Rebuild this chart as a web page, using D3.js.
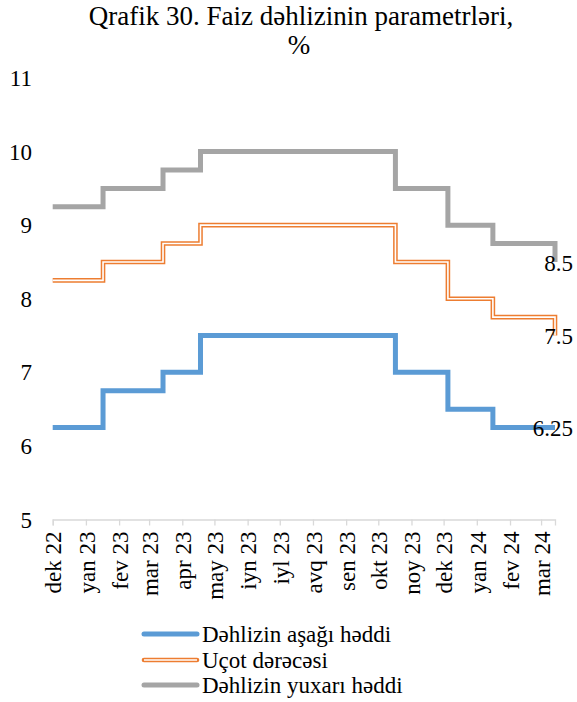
<!DOCTYPE html>
<html>
<head>
<meta charset="utf-8">
<script src="https://cdn.jsdelivr.net/npm/d3@7"></script>
<style>
  html, body { margin: 0; padding: 0; background: #fff; }
  svg { display: block; }
  svg text { font-family: "Liberation Serif", "Times New Roman", serif; fill: #000; }
</style>
</head>
<body>
<svg id="chart" width="577" height="702"></svg>
<script>
// Decision dates and corridor parameters (%), each value holds until the next date
const changeDates = ["2022-12-01", "2023-01-17", "2023-03-14", "2023-04-18",
                     "2023-10-17", "2023-12-05", "2024-01-16", "2024-03-14"];
const lowerBound = [6.25, 6.75, 7.0, 7.5, 7.0, 6.5, 6.25, 6.25];
const policyRate = [8.25, 8.5, 8.75, 9.0, 8.5, 8.0, 7.75, 7.5];
const upperBound = [9.25, 9.5, 9.75, 10.0, 9.5, 9.0, 8.75, 8.5];

const seriesNames = ["Dəhlizin aşağı həddi", "Uçot dərəcəsi", "Dəhlizin yuxarı həddi"];
const monthLabels = ["dek 22", "yan 23", "fev 23", "mar 23", "apr 23", "may 23", "iyn 23", "iyl 23",
                     "avq 23", "sen 23", "okt 23", "noy 23", "dek 23", "yan 24", "fev 24", "mar 24"];
const yTicks = [5, 6, 7, 8, 9, 10, 11];
const endLabels = ["6.25", "7.5", "8.5"];

const FONT = "Liberation Serif, Times New Roman, serif";

const parse = d3.timeParse("%Y-%m-%d");
const dates = changeDates.map(parse);

const svg = d3.select("#chart");

const x = d3.scaleTime()
  .domain([dates[0], dates[dates.length - 1]])
  .range([52.7, 555]);
const y = d3.scaleLinear().domain([5, 11]).range([519.5, 78]);

// Title
const title = svg.append("text")
  .attr("text-anchor", "middle")
  .attr("font-family", FONT)
  .attr("font-size", 27);
title.append("tspan").attr("x", 301).attr("y", 25).text("Qrafik 30. Faiz dəhlizinin parametrləri,");
title.append("tspan").attr("x", 299).attr("y", 54).text("%");

// Y axis labels (no axis line, no gridlines)
svg.append("g")
  .selectAll("text")
  .data(yTicks)
  .join("text")
  .attr("x", 32)
  .attr("y", d => y(d))
  .attr("dy", "0.35em")
  .attr("text-anchor", "end")
  .attr("font-family", FONT)
  .attr("font-size", 23)
  .text(d => d);

// X axis: month ticks with rotated labels
const monthTicks = d3.timeMonth.range(d3.timeMonth.floor(dates[0]), dates[dates.length - 1]);
const xAxis = d3.axisBottom(x)
  .tickValues(monthTicks)
  .tickSize(6)
  .tickFormat((d, i) => monthLabels[i]);

const gx = svg.append("g")
  .attr("transform", `translate(0,${y(5)})`)
  .call(xAxis)
  .attr("font-family", FONT);
gx.select(".domain").attr("stroke", "#D9D9D9").attr("stroke-width", 1.3);
gx.selectAll(".tick line").attr("stroke", "#D9D9D9").attr("stroke-width", 1.3);
gx.selectAll(".tick text")
  .attr("font-family", FONT)
  .attr("font-size", 23)
  .attr("fill", "#000")
  .attr("text-anchor", "end")
  .attr("transform", "translate(0,12) rotate(-90)")
  .attr("x", 0)
  .attr("y", 0)
  .attr("dy", "0.36em");

// Step lines
const line = d3.line()
  .x((d, i) => x(dates[i]))
  .y(d => y(d))
  .curve(d3.curveStepAfter);

const plot = svg.append("g");

plot.append("path")
  .attr("d", line(upperBound))
  .attr("fill", "none")
  .attr("stroke", "#A5A5A5")
  .attr("stroke-width", 5)
  .attr("stroke-linejoin", "miter");

// Policy rate drawn as a double (compound) orange line
plot.append("path")
  .attr("d", line(policyRate))
  .attr("fill", "none")
  .attr("stroke", "#ED7D31")
  .attr("stroke-width", 4.6)
  .attr("stroke-linejoin", "miter");
plot.append("path")
  .attr("d", line(policyRate))
  .attr("fill", "none")
  .attr("stroke", "#fff")
  .attr("stroke-width", 1.6)
  .attr("stroke-linejoin", "miter");

plot.append("path")
  .attr("d", line(lowerBound))
  .attr("fill", "none")
  .attr("stroke", "#5B9BD5")
  .attr("stroke-width", 5)
  .attr("stroke-linejoin", "miter");

// Value labels at the last point of each series
const lastValues = [lowerBound, policyRate, upperBound].map(s => s[s.length - 1]);
svg.append("g")
  .selectAll("text")
  .data(lastValues)
  .join("text")
  .attr("x", 573)
  .attr("y", d => y(d))
  .attr("dy", "0.38em")
  .attr("text-anchor", "end")
  .attr("font-family", FONT)
  .attr("font-size", 23)
  .text((d, i) => endLabels[i]);

// Legend
const legendRows = [634, 660, 685];
const legend = svg.append("g");
seriesNames.forEach((name, i) => {
  const yy = legendRows[i];
  if (i === 1) {
    legend.append("line").attr("x1", 144).attr("x2", 197).attr("y1", yy).attr("y2", yy)
      .attr("stroke", "#ED7D31").attr("stroke-width", 4.6).attr("stroke-linecap", "round");
    legend.append("line").attr("x1", 144).attr("x2", 197).attr("y1", yy).attr("y2", yy)
      .attr("stroke", "#fff").attr("stroke-width", 1.6);
  } else {
    legend.append("line").attr("x1", 144).attr("x2", 197).attr("y1", yy).attr("y2", yy)
      .attr("stroke", i === 0 ? "#5B9BD5" : "#A5A5A5").attr("stroke-width", 5)
      .attr("stroke-linecap", "round");
  }
  legend.append("text")
    .attr("x", 202)
    .attr("y", yy)
    .attr("dy", "0.35em")
    .attr("font-family", FONT)
    .attr("font-size", 23)
    .text(name);
});
</script>
</body>
</html>
